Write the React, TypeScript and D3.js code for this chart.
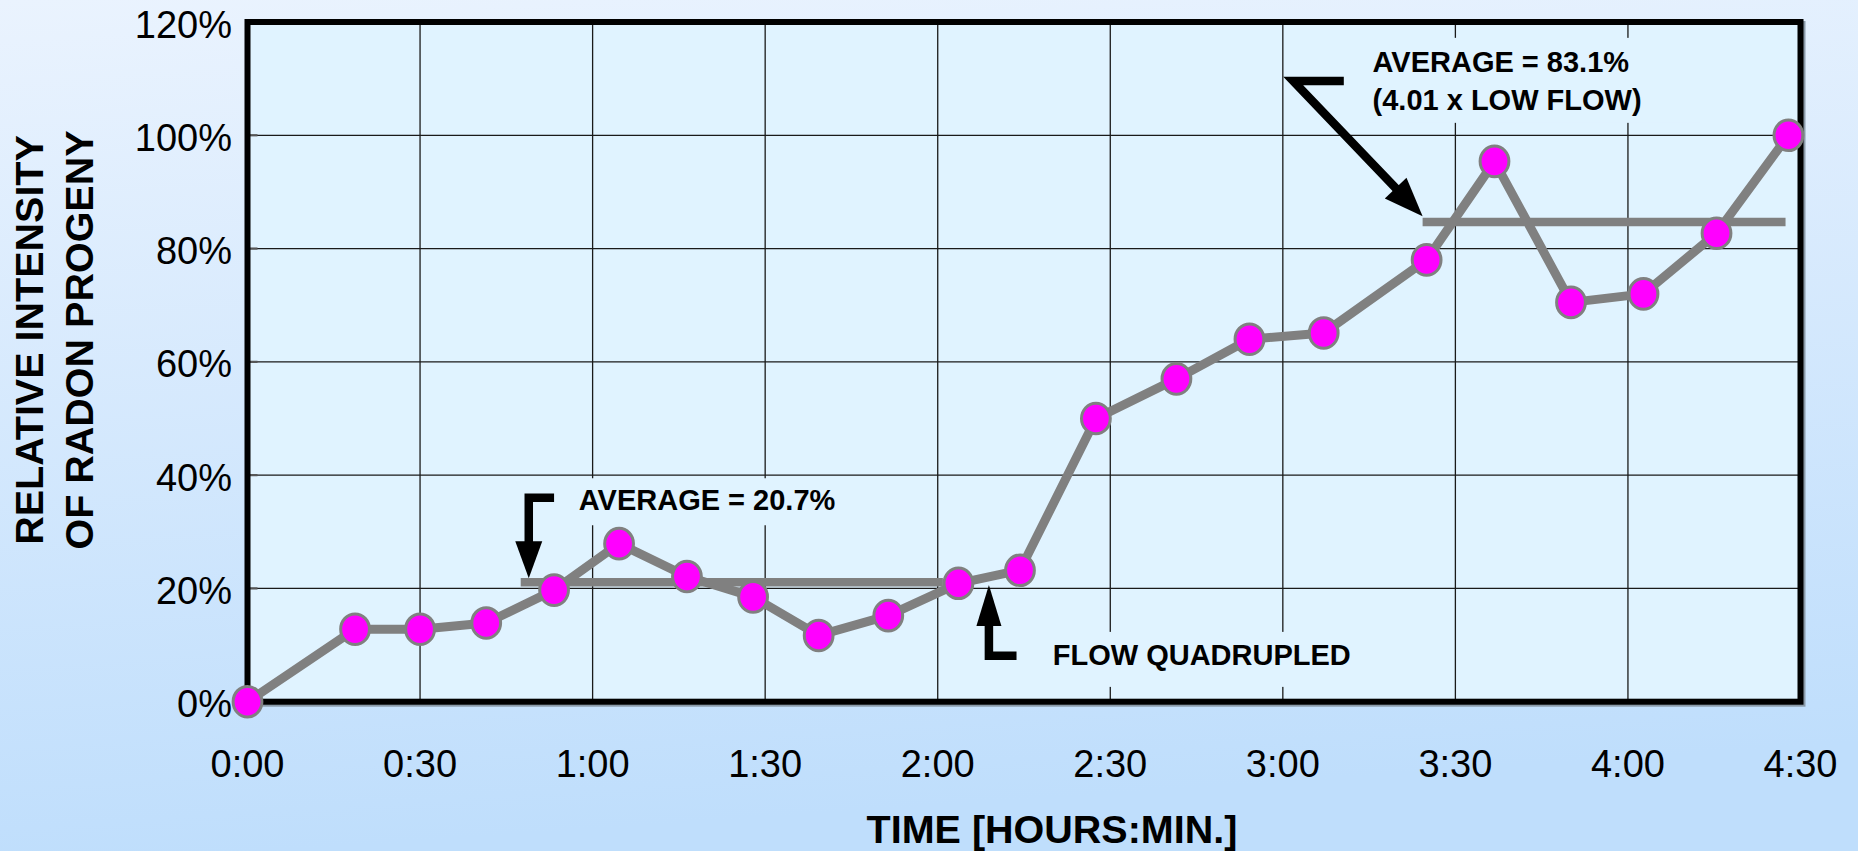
import React from "react";
import * as d3 from "d3";

// ---- data (time in minutes, intensity in percent) ----
const timeMinutes = [0, 18.7, 30, 41.5, 53.3, 64.6, 76.4, 87.9, 99.3, 111.4, 123.6, 134.3, 147.5, 161.5, 174.2, 187.1, 205.0, 216.8, 230.1, 242.7, 255.4, 267.9];
const intensityPct = [0, 12.8, 12.8, 13.9, 19.7, 27.9, 22.1, 18.5, 11.7, 15.2, 20.9, 23.2, 50.0, 57.0, 64.0, 65.1, 78.0, 95.4, 70.5, 72.0, 82.7, 100.0];

const yTicks = [0, 20, 40, 60, 80, 100, 120];
const xTickMinutes = [0, 30, 60, 90, 120, 150, 180, 210, 240, 270];
const xTickLabels = ["0:00", "0:30", "1:00", "1:30", "2:00", "2:30", "3:00", "3:30", "4:00", "4:30"];

const lowAvgSpan = [47.5, 120.9];
const lowAvgLevel = 21.1;
const highAvgSpan = [204.3, 267.4];
const highAvgLevel = 84.7;

const lowAvgText = "AVERAGE = 20.7%";
const flowText = "FLOW QUADRUPLED";
const highAvgText1 = "AVERAGE = 83.1%";
const highAvgText2 = "(4.01 x LOW FLOW)";

const W = 1858;
const H = 851;
const FONT = "'Liberation Sans', Arial, Helvetica, sans-serif";
const PLOT_BG = "#e0f3ff";
const GRAY = "#808080";

const x = d3.scaleLinear().domain([0, 270]).range([247.5, 1800.5]);
const y = d3.scaleLinear().domain([0, 120]).range([701.7, 22]);

function head(tx: number, ty: number, fx: number, fy: number, len: number, hw: number) {
  const dx = tx - fx, dy = ty - fy;
  const L = Math.hypot(dx, dy);
  const ux = dx / L, uy = dy / L;
  const bx = tx - ux * len, by = ty - uy * len;
  const px = -uy, py = ux;
  return {
    pts: `${tx},${ty} ${bx + px * hw},${by + py * hw} ${bx - px * hw},${by - py * hw}`,
    bx: bx + ux * 2,
    by: by + uy * 2,
  };
}

function Arrow({ barEnd, corner, tip, len, hw }: { barEnd: number[]; corner: number[]; tip: number[]; len: number; hw: number }) {
  const ex = x(barEnd[0]), ey = y(barEnd[1]);
  const cx = x(corner[0]), cy = y(corner[1]);
  const tx = x(tip[0]), ty = y(tip[1]);
  const h = head(tx, ty, cx, cy, len, hw);
  return (
    <g>
      <path d={`M${ex},${ey} L${cx},${cy} L${h.bx},${h.by}`} fill="none" stroke="#000" strokeWidth={8.5} strokeLinejoin="miter" strokeMiterlimit={10} />
      <polygon points={h.pts} fill="#000" />
    </g>
  );
}

export default function App() {
  const line = d3
    .line<number>()
    .x((_, i) => x(timeMinutes[i]))
    .y((d) => y(d));
  const pathD = line(intensityPct) || "";
  const x0 = x(0), x1 = x(270), y0 = y(0), y1 = y(120);

  // annotation anchors (data coordinates)
  const t1x = x(57.6), t1y = y(33.8);
  const t2x = x(140.0), t2y = y(6.5);
  const t3x = x(195.6), t3y = y(111.2), t3y2 = y(104.5);

  return (
    <svg width={W} height={H} style={{ position: "absolute", left: 0, top: 0, display: "block" }} fontFamily={FONT}>
      <defs>
        <linearGradient id="bg" x1="0" y1="0" x2="0.15" y2="1">
          <stop offset="0" stopColor="#eaf3fe" />
          <stop offset="1" stopColor="#bfdefc" />
        </linearGradient>
      </defs>
      <rect x={0} y={0} width={W} height={H} fill="url(#bg)" />
      {/* shadow */}
      <rect x={x0 + 2} y={y1 + 2} width={x1 - x0} height={y0 - y1} fill="none" stroke="#8a9aa8" strokeWidth={6} />
      <rect x={x0} y={y1} width={x1 - x0} height={y0 - y1} fill={PLOT_BG} />

      {/* grid */}
      {xTickMinutes.map((t) => (
        <line key={"gx" + t} x1={x(t)} x2={x(t)} y1={y1} y2={y0} stroke="#1a1a1a" strokeWidth={1.3} />
      ))}
      {yTicks.map((v) => (
        <line key={"gy" + v} x1={x0} x2={x1} y1={y(v)} y2={y(v)} stroke="#1a1a1a" strokeWidth={1.3} />
      ))}
      {yTicks.map((v) => (
        <line key={"ty" + v} x1={x0} x2={x0 + 10} y1={y(v)} y2={y(v)} stroke="#555" strokeWidth={2.2} />
      ))}

      {/* text background boxes */}
      <rect x={t1x - 9} y={t1y - 32} width={280} height={47} fill={PLOT_BG} />
      <rect x={t2x - 8} y={t2y - 33} width={315} height={55} fill={PLOT_BG} />
      <rect x={t3x - 7} y={t3y - 34} width={335} height={85} fill={PLOT_BG} />

      {/* frame */}
      <rect x={x0} y={y1} width={x1 - x0} height={y0 - y1} fill="none" stroke="#000" strokeWidth={6} />

      {/* average lines */}
      <line x1={x(lowAvgSpan[0])} x2={x(lowAvgSpan[1])} y1={y(lowAvgLevel)} y2={y(lowAvgLevel)} stroke={GRAY} strokeWidth={8.5} />
      <line x1={x(highAvgSpan[0])} x2={x(highAvgSpan[1])} y1={y(highAvgLevel)} y2={y(highAvgLevel)} stroke={GRAY} strokeWidth={8.5} />

      {/* data */}
      <path d={pathD} fill="none" stroke={GRAY} strokeWidth={9} strokeLinejoin="round" />
      {intensityPct.map((v, i) => (
        <ellipse key={"m" + i} cx={x(timeMinutes[i])} cy={y(v)} rx={14.4} ry={15.3} fill="#ff00ff" stroke={GRAY} strokeWidth={3} />
      ))}

      {/* arrows */}
      <Arrow barEnd={[53.3, 36.0]} corner={[48.9, 36.0]} tip={[48.9, 21.8]} len={37} hw={13.5} />
      <Arrow barEnd={[133.7, 8.1]} corner={[128.9, 8.1]} tip={[128.9, 20.6]} len={41} hw={12.5} />
      <Arrow barEnd={[190.6, 109.6]} corner={[181.8, 109.6]} tip={[204.3, 85.7]} len={39} hw={15} />

      {/* annotation text */}
      <g fontWeight="bold" fontSize={29} fill="#000">
        <text x={t1x} y={t1y}>{lowAvgText}</text>
        <text x={t2x} y={t2y}>{flowText}</text>
        <text x={t3x} y={t3y}>{highAvgText1}</text>
        <text x={t3x} y={t3y2}>{highAvgText2}</text>
      </g>

      {/* axis tick labels */}
      <g fontSize={38} fill="#000">
        {yTicks.map((v) => (
          <text key={"yl" + v} x={232} y={y(v) + 15.5} textAnchor="end">{v + "%"}</text>
        ))}
        {xTickMinutes.map((t, i) => (
          <text key={"xl" + t} x={x(t)} y={776.7} textAnchor="middle">{xTickLabels[i]}</text>
        ))}
      </g>

      {/* axis titles */}
      <g fontWeight="bold" fontSize={39.5} fill="#000">
        <text x={1052} y={843.3} textAnchor="middle">TIME [HOURS:MIN.]</text>
        <text transform="translate(43.3,340) rotate(-90)" textAnchor="middle">RELATIVE INTENSITY</text>
        <text transform="translate(93.3,340) rotate(-90)" textAnchor="middle">OF RADON PROGENY</text>
      </g>
    </svg>
  );
}
